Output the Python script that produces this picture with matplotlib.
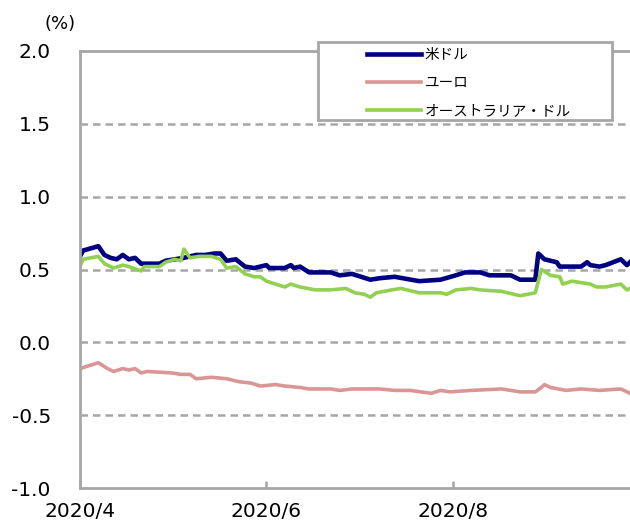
import matplotlib
matplotlib.use("Agg")
import matplotlib.pyplot as plt
from matplotlib.patches import Rectangle
import pandas as pd

# ---- data ----
usd_dates = ["2020-04-01","2020-04-02","2020-04-07","2020-04-09","2020-04-11","2020-04-13","2020-04-15",
             "2020-04-17","2020-04-19","2020-04-21","2020-04-24","2020-04-27","2020-04-29","2020-05-02",
             "2020-05-05","2020-05-09","2020-05-12","2020-05-15","2020-05-17","2020-05-19","2020-05-22",
             "2020-05-25","2020-05-28","2020-06-01","2020-06-02","2020-06-07","2020-06-09","2020-06-10",
             "2020-06-12","2020-06-15","2020-06-22","2020-06-25","2020-06-29","2020-07-02","2020-07-05",
             "2020-07-08","2020-07-13","2020-07-21","2020-07-28","2020-08-02","2020-08-05","2020-08-10",
             "2020-08-13","2020-08-20","2020-08-23","2020-08-28","2020-08-29","2020-08-31","2020-09-04",
             "2020-09-05","2020-09-12","2020-09-14","2020-09-15","2020-09-18","2020-09-20","2020-09-25",
             "2020-09-27","2020-09-28"]
usd = [0.59, 0.63, 0.66, 0.60, 0.58, 0.57, 0.60,
       0.57, 0.58, 0.54, 0.54, 0.54, 0.56, 0.57,
       0.58, 0.60, 0.60, 0.61, 0.61, 0.56, 0.57,
       0.52, 0.51, 0.53, 0.51, 0.51, 0.53, 0.51,
       0.52, 0.48, 0.48, 0.46, 0.47, 0.45, 0.43,
       0.44, 0.45, 0.42, 0.43, 0.46, 0.48, 0.48,
       0.46, 0.46, 0.43, 0.43, 0.61, 0.57, 0.55,
       0.52, 0.52, 0.55, 0.53, 0.52, 0.53, 0.57,
       0.53, 0.55]

eur_dates = ["2020-04-01","2020-04-07","2020-04-10","2020-04-12","2020-04-15","2020-04-17","2020-04-19",
             "2020-04-21","2020-04-23","2020-05-01","2020-05-04","2020-05-07","2020-05-09","2020-05-14",
             "2020-05-19","2020-05-23","2020-05-27","2020-05-30","2020-06-04","2020-06-07","2020-06-12",
             "2020-06-15","2020-06-22","2020-06-25","2020-06-29","2020-07-02","2020-07-08","2020-07-13",
             "2020-07-18","2020-07-25","2020-07-28","2020-07-31","2020-08-07","2020-08-17","2020-08-23",
             "2020-08-28","2020-08-30","2020-08-31","2020-09-02","2020-09-07","2020-09-12","2020-09-18",
             "2020-09-25","2020-09-27","2020-09-28"]
eur = [-0.18, -0.14, -0.18, -0.20, -0.18, -0.19, -0.18,
       -0.21, -0.20, -0.21, -0.22, -0.22, -0.25, -0.24,
       -0.25, -0.27, -0.28, -0.30, -0.29, -0.30, -0.31,
       -0.32, -0.32, -0.33, -0.32, -0.32, -0.32, -0.33,
       -0.33, -0.35, -0.33, -0.34, -0.33, -0.32, -0.34,
       -0.34, -0.31, -0.29, -0.31, -0.33, -0.32, -0.33,
       -0.32, -0.34, -0.35]

aud_dates = ["2020-04-01","2020-04-02","2020-04-07","2020-04-09","2020-04-12","2020-04-15","2020-04-17",
             "2020-04-21","2020-04-22","2020-04-27","2020-04-29","2020-05-02","2020-05-04","2020-05-05",
             "2020-05-07","2020-05-10","2020-05-14","2020-05-17","2020-05-19","2020-05-22","2020-05-25",
             "2020-05-28","2020-05-30","2020-06-01","2020-06-04","2020-06-07","2020-06-09","2020-06-12",
             "2020-06-17","2020-06-22","2020-06-27","2020-06-30","2020-07-03","2020-07-05","2020-07-07",
             "2020-07-12","2020-07-15","2020-07-21","2020-07-28","2020-07-30","2020-08-02","2020-08-07",
             "2020-08-10","2020-08-17","2020-08-23","2020-08-28","2020-08-30","2020-09-02","2020-09-05",
             "2020-09-06","2020-09-09","2020-09-15","2020-09-17","2020-09-20","2020-09-25","2020-09-27",
             "2020-09-28"]
aud = [0.52, 0.57, 0.59, 0.54, 0.51, 0.53, 0.52,
       0.49, 0.52, 0.52, 0.55, 0.57, 0.56, 0.64,
       0.58, 0.59, 0.59, 0.57, 0.51, 0.52, 0.47,
       0.45, 0.45, 0.42, 0.40, 0.38, 0.40, 0.38,
       0.36, 0.36, 0.37, 0.34, 0.33, 0.31, 0.34,
       0.36, 0.37, 0.34, 0.34, 0.33, 0.36, 0.37,
       0.36, 0.35, 0.32, 0.34, 0.50, 0.46, 0.45,
       0.40, 0.42, 0.40, 0.38, 0.38, 0.40, 0.36,
       0.37]

series_names = ["米ドル", "ユーロ", "オーストラリア・ドル"]
yticks = [-1.0, -0.5, 0.0, 0.5, 1.0, 1.5, 2.0]
xtick_dates = ["2020-04-01", "2020-06-01", "2020-08-01"]
xtick_labels = ["2020/4", "2020/6", "2020/8"]

# ---- figure ----
GRAY = "#A6A6A6"
W, H = 630, 526
fig = plt.figure(figsize=(6.30, 5.26), dpi=100)
ax = fig.add_axes([80/W, 38/H, 550/W, 437/H])

ax.plot(pd.to_datetime(usd_dates), usd, color="#000080", lw=3.3, label=series_names[0], solid_joinstyle="round")
ax.plot(pd.to_datetime(eur_dates), eur, color="#DA9694", lw=2.6, label=series_names[1], solid_joinstyle="round")
ax.plot(pd.to_datetime(aud_dates), aud, color="#92D050", lw=2.6, label=series_names[2], solid_joinstyle="round")

ax.set_ylim(-1.0, 2.0)
ax.set_xlim(pd.Timestamp("2020-04-01"), pd.Timestamp("2020-09-28"))
ax.set_yticks(yticks)
ax.set_yticklabels([f"{v:.1f}" for v in yticks])
ax.set_xticks(pd.to_datetime(xtick_dates))
ax.set_xticklabels(xtick_labels)

for v in yticks[1:-1]:
    ax.axhline(v, color=GRAY, lw=1.8, ls=(0, (3.0, 2.0)), zorder=0)

ax.spines["right"].set_visible(False)
for s in ["left", "bottom", "top"]:
    ax.spines[s].set_color(GRAY)
    ax.spines[s].set_linewidth(2.0)

ax.tick_params(axis="y", length=0, labelsize=14.5, pad=21, colors="black")
ax.tick_params(axis="x", direction="in", length=5, width=1.8, color=GRAY, labelsize=14.5, pad=10)
for lab in ax.get_xticklabels():
    lab.set_color("black")

fig.text(44/W, 1 - 24/H, "(%)", fontsize=13, va="center", ha="left")

# legend frame
rect = Rectangle((318/W, 1 - 120/H), 294/W, 78/H, transform=fig.transFigure,
                 facecolor="white", edgecolor=GRAY, linewidth=2.0, zorder=4)
fig.patches.append(rect)

leg = fig.legend(loc="upper left", bbox_to_anchor=(364/W, 1 - 45/H),
                 frameon=False, handlelength=3.7, handletextpad=0.25,
                 borderpad=0.2, labelspacing=0.95, borderaxespad=0,
                 prop={"family": ["Noto Sans CJK JP", "DejaVu Sans"], "size": 10.5})
leg.set_zorder(5)

fig.savefig("out.png", dpi=100)
